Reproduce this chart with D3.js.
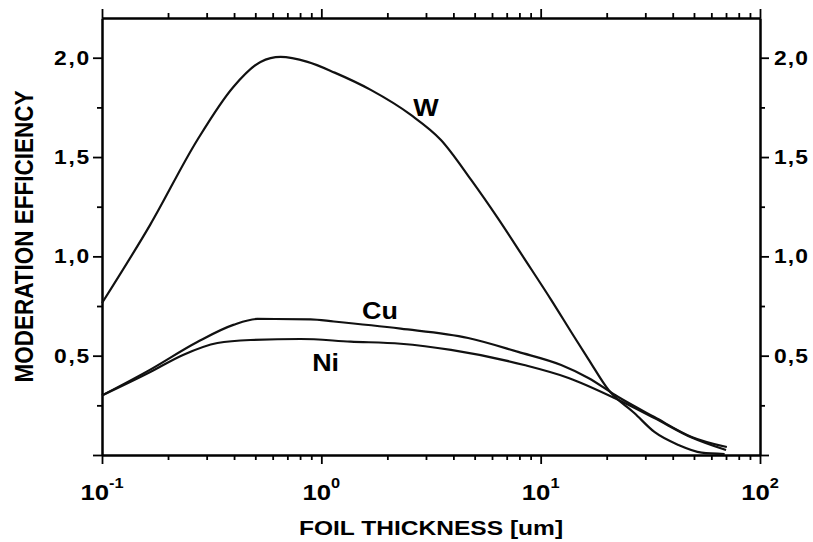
<!DOCTYPE html>
<html>
<head>
<meta charset="utf-8">
<script src="https://cdn.jsdelivr.net/npm/d3@7"></script>
<style>
  body { margin: 0; background: #fff; }
  text { font-family: "Liberation Sans", Arial, sans-serif; font-weight: bold; fill: #000; }
</style>
</head>
<body>
<svg id="svg" width="813" height="542"></svg>
<script>
// DATA
const thicknessW = [0.1, 0.166, 0.272, 0.397, 0.528, 0.652, 0.865, 1.15, 1.68, 2.56, 3.51, 4.82, 6.4, 8.41, 11.18, 14.24, 16.5, 20.4, 26.8, 33, 42.6, 54.2, 69];
const effW = [0.765, 1.16, 1.586, 1.853, 1.979, 2.004, 1.979, 1.925, 1.838, 1.712, 1.586, 1.385, 1.19, 0.99, 0.78, 0.594, 0.483, 0.327, 0.21, 0.116, 0.05, 0.012, 0.005];

const thicknessCu = [0.1, 0.166, 0.272, 0.397, 0.511, 0.893, 1.14, 2.3, 4.67, 7.9, 12.4, 16.5, 22.6, 33, 48.8, 70.6];
const effCu = [0.3, 0.43, 0.569, 0.655, 0.685, 0.683, 0.672, 0.636, 0.589, 0.519, 0.453, 0.388, 0.292, 0.191, 0.091, 0.04];

const thicknessNi = [0.1, 0.166, 0.234, 0.336, 0.475, 0.804, 1.36, 2.3, 3.9, 8.41, 13.4, 21.7, 33, 48.8, 70];
const effNi = [0.3, 0.418, 0.504, 0.564, 0.579, 0.584, 0.571, 0.56, 0.529, 0.453, 0.388, 0.287, 0.186, 0.088, 0.025];

const seriesNames = ["W", "Cu", "Ni"];
const labelAt = [[3.0, 1.709], [1.85, 0.687], [1.046, 0.425]]; // (thickness, efficiency) of label baseline

const xMajor = [0.1, 1, 10, 100];
const xExponents = ["-1", "0", "1", "2"];
const yMajor = [0, 0.5, 1.0, 1.5, 2.0];
const yMinor = [0.25, 0.75, 1.25, 1.75];
const yLabels = ["", "0,5", "1,0", "1,5", "2,0"];

// VARIABLES
const stretch = 1.17; // the scan is a bit wider than tall
const x = d3.scaleLog().domain([0.1, 100]).range([102, 760]);
const y = d3.scaleLinear().domain([0, 2.2]).range([455, 18]);
const xMinor = x.ticks().filter(t => !xMajor.includes(t));

const series = [
  d3.zip(thicknessW, effW),
  d3.zip(thicknessCu, effCu),
  d3.zip(thicknessNi, effNi)
];

const svg = d3.select("#svg");

// AXES
function drawAxis(axisFn, scale, major, minor, translate) {
  const g = svg.append("g").attr("transform", translate);
  g.append("g").call(axisFn(scale).tickValues(minor).tickSize(5).tickSizeOuter(0).tickFormat(""));
  g.append("g").call(axisFn(scale).tickValues(major).tickSize(9).tickSizeOuter(0).tickFormat(""));
  g.selectAll("path.domain").attr("stroke", "#000").attr("stroke-width", 2);
  g.selectAll(".tick line").attr("stroke", "#000").attr("stroke-width", 1.8);
}

drawAxis(d3.axisBottom, x, xMajor, xMinor, `translate(0,${y(0)})`);
drawAxis(d3.axisTop, x, xMajor, xMinor, `translate(0,${y(2.2)})`);
drawAxis(d3.axisLeft, y, yMajor, yMinor, `translate(${x(0.1)},0)`);
drawAxis(d3.axisRight, y, yMajor, yMinor, `translate(${x(100)},0)`);

// TICK LABELS
const xl = svg.append("g")
  .selectAll("text")
  .data(xMajor)
  .join("text")
  .attr("text-anchor", "middle")
  .attr("transform", d => `translate(${x(d)},500) scale(${stretch},1)`)
  .style("font-size", "22px");
xl.append("tspan").text("10");
xl.append("tspan")
  .attr("dy", -12)
  .style("font-size", "14px")
  .text((d, i) => xExponents[i]);

svg.append("g")
  .selectAll("text")
  .data(yMajor)
  .join("text")
  .attr("text-anchor", "end")
  .attr("transform", d => `translate(91,${y(d) + 7}) scale(${stretch},1)`)
  .style("font-size", "19.5px")
  .style("letter-spacing", "1.5px")
  .text((d, i) => yLabels[i]);

svg.append("g")
  .selectAll("text")
  .data(yMajor)
  .join("text")
  .attr("text-anchor", "start")
  .attr("transform", d => `translate(774,${y(d) + 7}) scale(${stretch},1)`)
  .style("font-size", "19.5px")
  .style("letter-spacing", "1px")
  .text((d, i) => yLabels[i]);

// AXIS TITLES
svg.append("text")
  .attr("text-anchor", "middle")
  .attr("transform", `translate(${(x.range()[0] + x.range()[1]) / 2},535) scale(${stretch},1)`)
  .style("font-size", "21px")
  .text("FOIL THICKNESS [um]");

svg.append("text")
  .attr("text-anchor", "middle")
  .attr("transform", `translate(33,${(y.range()[0] + y.range()[1]) / 2}) scale(${stretch},1) rotate(-90)`)
  .style("font-size", "22.5px")
  .text("MODERATION EFFICIENCY");

// CURVES
const line = d3.line()
  .x(d => x(d[0]))
  .y(d => y(d[1]))
  .curve(d3.curveMonotoneX);

svg.append("g")
  .selectAll("path")
  .data(series)
  .join("path")
  .attr("fill", "none")
  .attr("stroke", "#111")
  .attr("stroke-width", 2.2)
  .attr("stroke-linejoin", "round")
  .attr("d", line);

svg.append("g")
  .selectAll("text")
  .data(seriesNames)
  .join("text")
  .attr("text-anchor", "middle")
  .attr("transform", (d, i) => `translate(${x(labelAt[i][0])},${y(labelAt[i][1])}) scale(${stretch},1)`)
  .style("font-size", "23px")
  .text(d => d);
</script>
</body>
</html>
